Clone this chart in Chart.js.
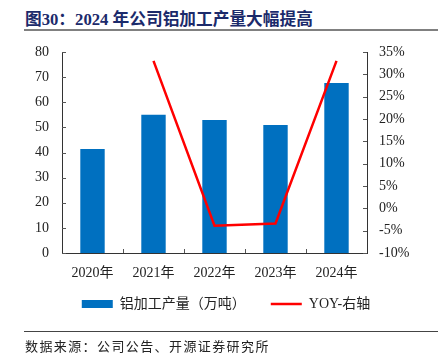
<!DOCTYPE html>
<html>
<head>
<meta charset="utf-8">
<script src="https://cdn.jsdelivr.net/npm/chart.js@4"></script>
<style>
  html, body { margin: 0; padding: 0; background: #fff; }
  #wrap { position: relative; width: 438px; height: 363px; overflow: hidden; }
  #chart { position: absolute; left: 0; top: 0; }
  .title { position: absolute; left: 25px; top: 6px; font: bold 16.7px "Liberation Serif", "Noto Sans CJK SC"; color: #1b2a6b; white-space: nowrap; }
  .rule { position: absolute; left: 24px; right: 0; background: #808080; }
  .source { position: absolute; left: 25px; top: 336px; font: 13px "Liberation Serif", "Noto Sans CJK SC"; letter-spacing: 1.4px; color: #222; white-space: nowrap; }
</style>
</head>
<body>
<div id="wrap">
  <div class="title">图30：2024 年公司铝加工产量大幅提高</div>
  <div class="rule" style="top:29px;height:2px;"></div>
  <canvas id="chart" width="438" height="363"></canvas>
  <div class="rule" style="top:331px;height:1px;background:#444;"></div>
  <div class="source">数据来源：公司公告、开源证券研究所</div>
</div>
<script>
const years = ['2020年', '2021年', '2022年', '2023年', '2024年'];
const output = [41.4, 55.0, 52.9, 50.9, 67.7];
const yoy = [null, 33.0, -3.9, -3.4, 33.0];

const tickFont = { family: '"Liberation Serif", "Noto Sans CJK SC"', size: 14 };

// small tick marks pointing into the plot, like the original
const innerTicks = {
  id: 'innerTicks',
  afterDraw(chart) {
    const ctx = chart.ctx;
    const area = chart.chartArea;
    const y = chart.scales.y, y1 = chart.scales.y1, x = chart.scales.x;
    ctx.save();
    ctx.strokeStyle = '#555';
    ctx.lineWidth = 1;
    ctx.beginPath();
    y.ticks.forEach(t => {
      const py = Math.round(y.getPixelForValue(t.value)) + 0.5;
      ctx.moveTo(area.left, py); ctx.lineTo(area.left + 4, py);
    });
    y1.ticks.forEach(t => {
      const py = Math.round(y1.getPixelForValue(t.value)) + 0.5;
      ctx.moveTo(area.right - 4, py); ctx.lineTo(area.right, py);
    });
    for (let i = 1; i < years.length; i++) {
      const px = Math.round((x.getPixelForValue(i - 1) + x.getPixelForValue(i)) / 2) + 0.5;
      ctx.moveTo(px, area.bottom); ctx.lineTo(px, area.bottom - 4);
    }
    ctx.stroke();
    ctx.restore();
  }
};

// pull the legend up a bit closer to the axis labels
const legendShift = {
  id: 'legendShift',
  afterLayout(chart) {
    chart.legend.top -= 16;
    chart.legend.bottom -= 16;
  }
};

const chart = new Chart(document.getElementById('chart'), {
  type: 'bar',
  data: {
    labels: years,
    datasets: [
      {
        type: 'line',
        label: 'YOY-右轴',
        data: yoy,
        yAxisID: 'y1',
        borderColor: '#ff0000',
        backgroundColor: '#ff0000',
        borderWidth: 2.5,
        pointRadius: 0,
        pointStyle: 'line',
        tension: 0,
        order: 0
      },
      {
        label: '铝加工产量（万吨）',
        data: output,
        yAxisID: 'y',
        backgroundColor: '#0070c0',
        barPercentage: 0.4,
        categoryPercentage: 1,
        pointStyle: 'rect',
        order: 1
      }
    ]
  },
  options: {
    responsive: false,
    animation: false,
    layout: { padding: { top: 52, left: 14, right: 0, bottom: 26 } },
    plugins: {
      title: { display: false },
      tooltip: { enabled: false },
      legend: {
        position: 'bottom',
        reverse: true,
        labels: {
          usePointStyle: true,
          pointStyleWidth: 31,
          boxHeight: 8,
          padding: 25,
          color: '#222',
          font: { family: '"Liberation Serif", "Noto Sans CJK SC"', size: 14 }
        }
      }
    },
    scales: {
      x: {
        grid: { display: false, drawTicks: false },
        border: { display: true, color: '#333', width: 1 },
        ticks: { color: '#222', font: tickFont, padding: 12, maxRotation: 0 },
        afterFit: s => { s.height = 35; }
      },
      y: {
        position: 'left',
        min: 0,
        max: 80,
        grid: { display: false, drawTicks: false },
        border: { display: true, color: '#333', width: 1 },
        ticks: { stepSize: 10, color: '#222', font: tickFont, padding: 13 },
        afterFit: s => { s.width = 48; }
      },
      y1: {
        position: 'right',
        min: -10,
        max: 35,
        grid: { display: false, drawTicks: false },
        border: { display: true, color: '#333', width: 1 },
        ticks: { stepSize: 5, color: '#222', font: tickFont, padding: 12, callback: v => v + '%' },
        afterFit: s => { s.width = 71; }
      }
    }
  },
  plugins: [innerTicks, legendShift]
});
</script>
</body>
</html>
